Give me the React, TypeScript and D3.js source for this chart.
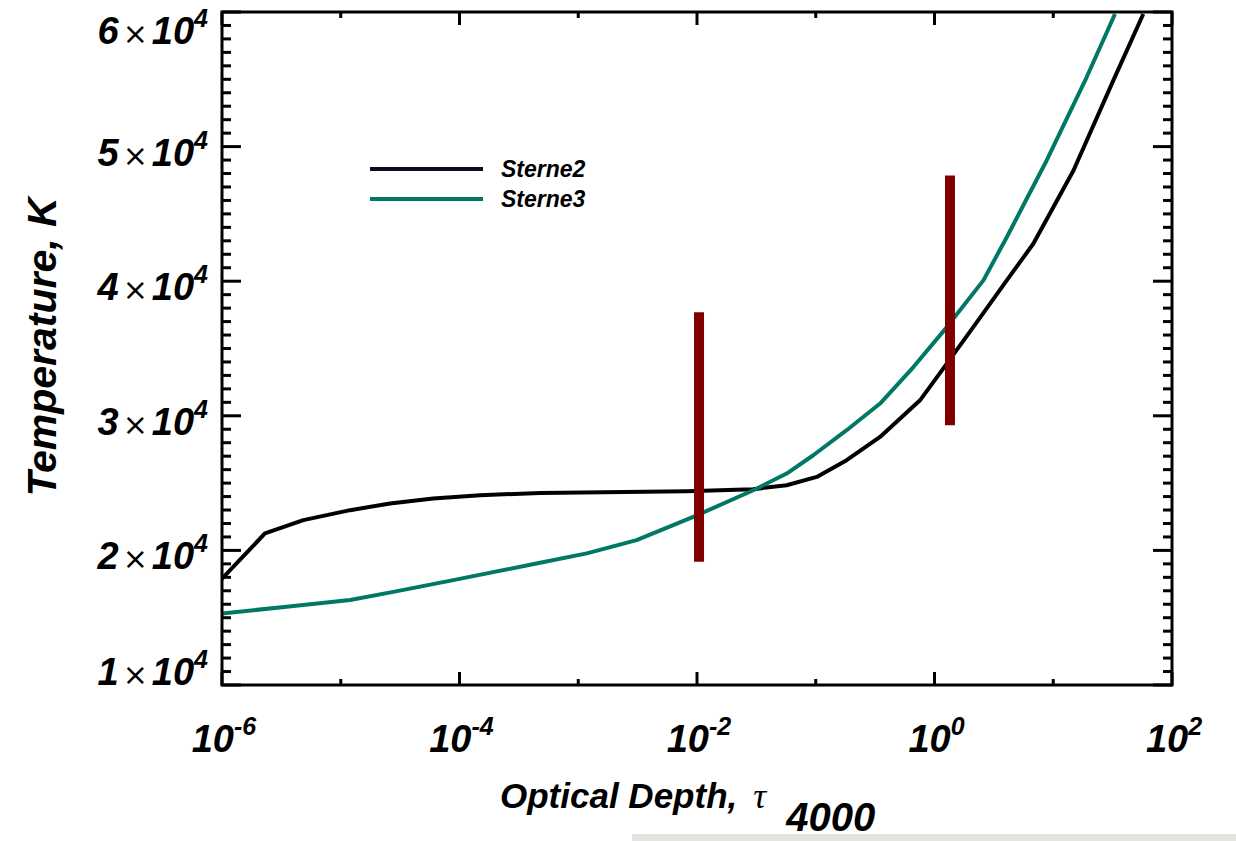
import React, { useEffect, useRef } from 'react';
import * as d3 from 'd3';

// Sterne2 model atmosphere
const tauSterne2 = [1e-6, 2.3e-6, 4.84e-6, 1.2e-5, 2.6e-5, 6.0e-5, 1.49e-4, 4.77e-4, 8.2e-3, 0.0296, 0.0569, 0.102, 0.182, 0.348, 0.755, 1.27, 2.12, 4.06, 6.79, 14.8, 32, 57.3];
const tempSterne2 = [17900, 21260, 22250, 22990, 23490, 23860, 24100, 24270, 24400, 24550, 24840, 25460, 26700, 28430, 31150, 33880, 36590, 40060, 42780, 48220, 54900, 59850];

// Sterne3 model atmosphere
const tauSterne3 = [1e-6, 3.5e-6, 1.2e-5, 2.77e-5, 8.87e-5, 4.77e-4, 1.18e-3, 3.1e-3, 9.3e-3, 0.0298, 0.0569, 0.0953, 0.182, 0.348, 0.664, 1.27, 2.58, 4.06, 8.8, 19.1, 33.1];
const tempSterne3 = [15320, 15810, 16310, 16920, 17790, 19080, 19780, 20760, 22490, 24470, 25710, 27070, 28930, 30910, 33620, 36590, 40060, 43270, 48970, 55150, 59850];

// vertical red bars
const barTau = [0.0104, 1.35];
const barLow = [19150, 29300];
const barHigh = [37700, 47850];

const seriesNames = ['Sterne2', 'Sterne3'];
const xTickExponents = [-6, -4, -2, 0, 2];
const yTickMantissas = [1, 2, 3, 4, 5, 6];

const App = () => {
  const ref = useRef<SVGSVGElement>(null);

  useEffect(() => {
    const svg = d3.select(ref.current);
    svg.selectAll('*').remove();

    const left = 222;
    const right = 1172;
    const top = 12;
    const bottom = 685;
    const font = '"Liberation Sans", Arial, Helvetica, sans-serif';

    const x = d3.scaleLog().domain([1e-6, 1e2]).range([left, right]);
    const y = d3.scaleLinear().domain([1e4, 6e4]).range([bottom, top]);

    svg.append('clipPath').attr('id', 'plot-clip')
      .append('rect')
      .attr('x', left).attr('y', top).attr('width', right - left).attr('height', bottom - top);

    const plot = svg.append('g').attr('clip-path', 'url(#plot-clip)');

    const line = d3.line<[number, number]>()
      .x((d) => x(d[0]))
      .y((d) => y(d[1]));

    plot.append('path')
      .attr('d', line(tauSterne2.map((t, i) => [t, tempSterne2[i]])))
      .attr('fill', 'none')
      .attr('stroke', '#000000')
      .attr('stroke-width', 4)
      .attr('stroke-linejoin', 'round');

    plot.append('path')
      .attr('d', line(tauSterne3.map((t, i) => [t, tempSterne3[i]])))
      .attr('fill', 'none')
      .attr('stroke', '#007865')
      .attr('stroke-width', 4)
      .attr('stroke-linejoin', 'round');

    plot.selectAll('.bar').data(barTau).enter().append('line')
      .attr('x1', (d) => x(d)).attr('x2', (d) => x(d))
      .attr('y1', (d, i) => y(barLow[i])).attr('y2', (d, i) => y(barHigh[i]))
      .attr('stroke', '#800000')
      .attr('stroke-width', 10);

    // frame
    svg.append('rect')
      .attr('x', left).attr('y', top).attr('width', right - left).attr('height', bottom - top)
      .attr('fill', 'none').attr('stroke', '#000').attr('stroke-width', 3);

    // y ticks every 1000 K
    const axes = svg.append('g').attr('stroke', '#000').attr('stroke-width', 3);
    d3.range(10000, 60001, 1000).forEach((v) => {
      const len = v % 10000 === 0 ? 19 : 9;
      axes.append('line').attr('x1', left).attr('x2', left + len).attr('y1', y(v)).attr('y2', y(v));
      axes.append('line').attr('x1', right).attr('x2', right - len).attr('y1', y(v)).attr('y2', y(v));
    });

    // x ticks every decade
    d3.range(-6, 3).forEach((e) => {
      const len = e % 2 === 0 ? 13 : 6;
      const xv = x(Math.pow(10, e));
      axes.append('line').attr('x1', xv).attr('x2', xv).attr('y1', bottom).attr('y2', bottom - len);
      axes.append('line').attr('x1', xv).attr('x2', xv).attr('y1', top).attr('y2', top + len);
    });

    const boldItalic = (sel: any, size: number) => sel
      .style('font-family', font)
      .style('font-weight', 'bold')
      .style('font-style', 'italic')
      .style('font-size', `${size}px`);

    // x tick labels
    xTickExponents.forEach((e) => {
      const t = boldItalic(svg.append('text'), 38)
        .attr('x', x(Math.pow(10, e)) + 2)
        .attr('y', 752)
        .attr('text-anchor', 'middle');
      t.append('tspan').text('10');
      t.append('tspan').attr('dy', -17).style('font-size', '25px').text(String(e));
    });

    // y tick labels
    yTickMantissas.forEach((m) => {
      const base = Math.min(685, Math.max(44, y(m * 10000) + 19));
      const t = boldItalic(svg.append('text'), 38)
        .attr('x', 208)
        .attr('y', base)
        .attr('text-anchor', 'end');
      t.append('tspan').text(`${m}`);
      t.append('tspan')
        .attr('dx', 4)
        .style('font-family', '"DejaVu Sans", sans-serif')
        .style('font-weight', 'normal')
        .style('font-style', 'normal')
        .style('font-size', '30px')
        .text('\u00d7');
      t.append('tspan').attr('dx', 4).text('10');
      t.append('tspan').attr('dy', -17).style('font-size', '25px').text('4');
    });

    // axis titles
    const xt = boldItalic(svg.append('text'), 35)
      .attr('x', 500)
      .attr('y', 808);
    xt.append('tspan').text('Optical Depth,');
    xt.append('tspan')
      .attr('dx', 16)
      .style('font-family', '"Liberation Serif", "DejaVu Serif", serif')
      .style('font-weight', 'normal')
      .style('font-size', '36px')
      .text('\u03c4');
    xt.append('tspan').attr('dx', 20).attr('dy', 23).style('font-size', '40px').text('4000');

    boldItalic(svg.append('text'), 41)
      .attr('transform', 'translate(56, 347) rotate(-90)')
      .attr('text-anchor', 'middle')
      .text('Temperature, K');

    // grey strip at the bottom edge of the picture
    svg.append('rect')
      .attr('x', 632).attr('y', 834).attr('width', 604).attr('height', 7)
      .attr('fill', '#e6e4e0');

    // legend
    const legendColors = ['#0b0b26', '#007865'];
    seriesNames.forEach((name, i) => {
      const ly = 169 + i * 30;
      svg.append('line')
        .attr('x1', 370).attr('x2', 483).attr('y1', ly).attr('y2', ly)
        .attr('stroke', legendColors[i]).attr('stroke-width', 4);
      boldItalic(svg.append('text'), 23)
        .attr('x', 501).attr('y', ly + 8)
        .text(name);
    });
  }, []);

  return (
    <svg
      ref={ref}
      width={1236}
      height={841}
      style={{ position: 'absolute', left: 0, top: 0, background: '#fff' }}
    />
  );
};

export default App;
